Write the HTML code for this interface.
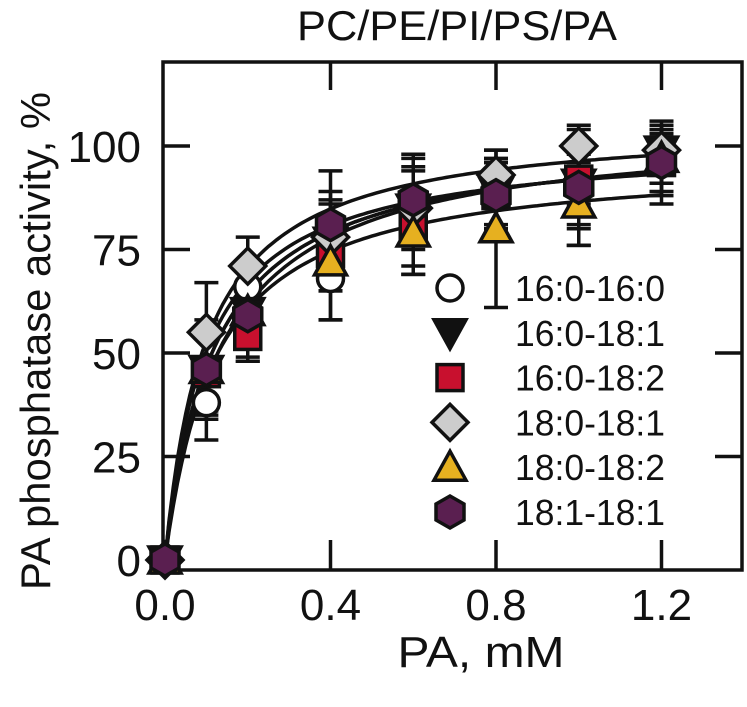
<!DOCTYPE html>
<html><head><meta charset="utf-8">
<style>
html,body{margin:0;padding:0;background:#fff;}
svg text{font-family:"Liberation Sans",Arial,sans-serif;fill:#111;}
</style></head>
<body>
<svg id="chart" width="747" height="702" viewBox="0 0 747 702" xmlns="http://www.w3.org/2000/svg">
<text x="457" y="40" font-size="42" text-anchor="middle" textLength="320" lengthAdjust="spacingAndGlyphs">PC/PE/PI/PS/PA</text>
<text transform="translate(50,341) rotate(-90)" font-size="42" text-anchor="middle" textLength="498" lengthAdjust="spacingAndGlyphs">PA phosphatase activity, %</text>
<text x="481" y="667" font-size="44" text-anchor="middle" textLength="167" lengthAdjust="spacingAndGlyphs">PA, mM</text>
<g id="axes"></g>
<g id="curves"></g>
<g id="errs"></g>
<g id="marks"></g>
<g id="legend"></g>
</svg>
<script>
const xVals=[0,0.1,0.2,0.4,0.6,0.8,1.0,1.2];
const seriesNames=["16:0-16:0","16:0-18:1","16:0-18:2","18:0-18:1","18:0-18:2","18:1-18:1"];
const s1=[0,38,66,68,83,88,90,96];
const s2=[0,46,60,77,85,89,91,99];
const s3=[0,45,54,74,80,88,92,96];
const s4=[0,55,71,78,85,93,100,99];
const s5=[0,46,60,72,79,80,86,97];
const s6=[0,46,59,81,87,88,90,96];
const e1=[0,9,6,10,14,8,10,8];
const e2=[0,12,12,12,10,8,10,6];
const e3=[0,10,5,9,9,8,6,7];
const e4=[0,12,7,9,9,6,5,6];
const e5=[0,9,12,14,10,19,10,6];
const e6=[0,10,8,13,11,8,14,10];
const vmax=[105,103,103,106,97,101];
const km=[0.14,0.12,0.12,0.1,0.12,0.1];
const xTicks=[0,0.4,0.8,1.2];
const xTickLabels=["0.0","0.4","0.8","1.2"];
const yTicks=[0,25,50,75,100];
const yTickLabels=["0","25","50","75","100"];

const series=[s1,s2,s3,s4,s5,s6];
const errs=[e1,e2,e3,e4,e5,e6];
const shapes=["circle","down","square","diamond","up","hex"];
const fills=["#ffffff","#111111","#c8102e","#cccccc","#e6b020","#5a1f50"];
const NS="http://www.w3.org/2000/svg";
const L=163,R=742,T=62,B=570;
const xs=v=>165+v*413.75;
const ys=v=>560-v*4.14;
function mk(tag,attrs,parent){const e=document.createElementNS(NS,tag);for(const k in attrs)e.setAttribute(k,attrs[k]);parent.appendChild(e);return e;}
const axes=document.getElementById('axes');
const fr=mk('rect',{x:L,y:T,width:R-L,height:B-T,fill:'none',stroke:'#111','stroke-width':3.5},axes);


xTicks.forEach((t,i)=>{
  const x=xs(t);
  const a=mk('line',{x1:x,x2:x,y1:B,y2:B-30,stroke:'#111','stroke-width':3.5},axes);
  
  
  if(i>0){const b=mk('line',{x1:x,x2:x,y1:T,y2:T+28,stroke:'#111','stroke-width':3.5},axes);
  
  }
  const tx=mk('text',{x:x,y:620,'font-size':44,'text-anchor':'middle'},axes);tx.textContent=xTickLabels[i];
  
  
});
yTicks.forEach((t,i)=>{
  const y=ys(t);
  if(i>0){const a=mk('line',{x1:L,x2:L+27,y1:y,y2:y,stroke:'#111','stroke-width':3.5},axes);
  
  
  const b=mk('line',{x1:R,x2:R-27,y1:y,y2:y,stroke:'#111','stroke-width':3.5},axes);
  
  }
  const tx=mk('text',{x:141,y:y+16,'font-size':44,'text-anchor':'end'},axes);tx.textContent=yTickLabels[i];
  
  
});
const curves=document.getElementById('curves');
vmax.forEach((V,i)=>{
  let d='';for(let k=0;k<=120;k++){const x=k*0.01;const v=V*x/(km[i]+x);d+=(k?'L':'M')+xs(x).toFixed(1)+','+ys(v).toFixed(1);}
  const p=mk('path',{d:d,fill:'none',stroke:'#111','stroke-width':3.5},curves);
  
  
});
const eg=document.getElementById('errs');
series.forEach((s,i)=>{s.forEach((v,j)=>{if(!errs[i][j])return;const x=xs(xVals[j]),y1=ys(v-errs[i][j]),y2=ys(v+errs[i][j]);
  const g=mk('path',{d:`M${x},${y1}L${x},${y2}M${x-12},${y1}L${x+12},${y1}M${x-12},${y2}L${x+12},${y2}`,stroke:'#111','stroke-width':3.5,fill:'none'},eg);
  
  
});});
function marker(shape,cx,cy,fill,parent){
  const st={fill:fill,stroke:'#111','stroke-width':3.5};let e;
  if(shape==='circle')e=mk('circle',Object.assign({cx:cx,cy:cy,r:13},st),parent);
  else if(shape==='square')e=mk('rect',Object.assign({x:cx-13,y:cy-13,width:26,height:26},st),parent);
  else{let pts;
    if(shape==='down')pts=[[-16,-13],[16,-13],[0,16]];
    else if(shape==='up')pts=[[-16,13],[16,13],[0,-16]];
    else if(shape==='diamond')pts=[[0,-18],[18,0],[0,18],[-18,0]];
    else pts=[[0,-16],[14,-8],[14,8],[0,16],[-14,8],[-14,-8]];
    e=mk('polygon',Object.assign({points:pts.map(p=>(cx+p[0])+','+(cy+p[1])).join(' ')},st),parent);}
  return e;
}
const mg=document.getElementById('marks');
series.forEach((s,i)=>{s.forEach((v,j)=>{
  const m=marker(shapes[i],xs(xVals[j]),ys(v),fills[i],mg);
  
  
});});
const lg=document.getElementById('legend');
seriesNames.forEach((n,i)=>{
  const y=288+i*44.8;
  const m=marker(shapes[i],450,y,fills[i],lg);
  
  
  const t=mk('text',{x:515,y:y+13,'font-size':36,textLength:150,lengthAdjust:'spacingAndGlyphs'},lg);t.textContent=n;
  
  
});
</script>
</body></html>
